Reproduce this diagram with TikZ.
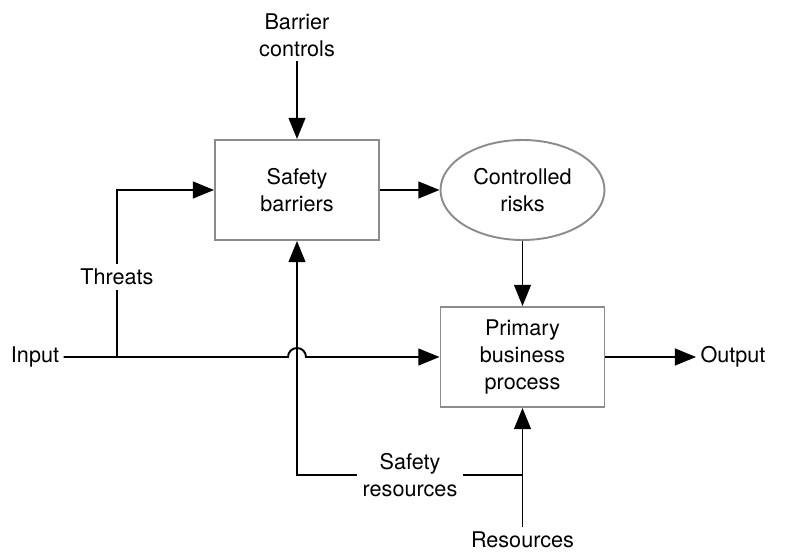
\documentclass[tikz,border=0pt]{standalone}
\usepackage{fontspec}
\setmainfont{TeX Gyre Heros}
\usetikzlibrary{arrows.meta,shapes.geometric}
\begin{document}
\begin{tikzpicture}[line width=1.1pt,
font=\fontsize{12.3}{15.3}\selectfont,
>={Triangle[length=12pt,width=9.5pt]},
procblock/.style={draw=black!45,rectangle,align=center,minimum width=3.28cm,minimum height=2cm},
riskblob/.style={draw=black!45,ellipse,align=center,minimum width=3.28cm,minimum height=2cm},
lbl/.style={align=center,inner sep=2pt},
cutlbl/.style={align=center,fill=white,inner sep=3pt}]
\useasboundingbox (0,0) rectangle (15.7,11.06);

\draw (5.94,7.26) node[procblock] (safety) {Safety\\barriers};
\draw (10.45,7.26) node[riskblob] (risks) {Controlled\\risks};
\draw (10.45,3.92) node[procblock] (primary) {Primary\\business\\process};

\draw (0.7,3.92) node[lbl] (input) {Input};
\draw (14.66,3.92) node[lbl] (output) {Output};
\draw (5.94,10.36) node[lbl] (bctrl) {Barrier\\controls};
\draw (10.45,0.26) node[lbl] (res) {Resources};
\coordinate (thj) at (2.34,3.92);
\coordinate (resj) at (10.45,1.56);

% main line with hop over the safety resources line
\draw[->] (input.east) -- (5.76,3.92) arc[start angle=180,end angle=0,radius=0.18cm] -- (primary.west);
\draw[->] (thj) |- (safety.west);
\draw[->] (bctrl.south) -- (safety.north);
\draw[->] (safety.east) -- (risks.west);
\draw[->] (risks.south) -- (primary.north);
\draw[->] (primary.east) -- (output.west);
\draw[->] (res.north) -- (primary.south);
\draw[->] (resj) -| (safety.south);

\draw (2.34,5.52) node[cutlbl] (threats) {Threats};
\draw (8.2,1.56) node[cutlbl] (sres) {Safety\\resources};
\end{tikzpicture}
\end{document}
